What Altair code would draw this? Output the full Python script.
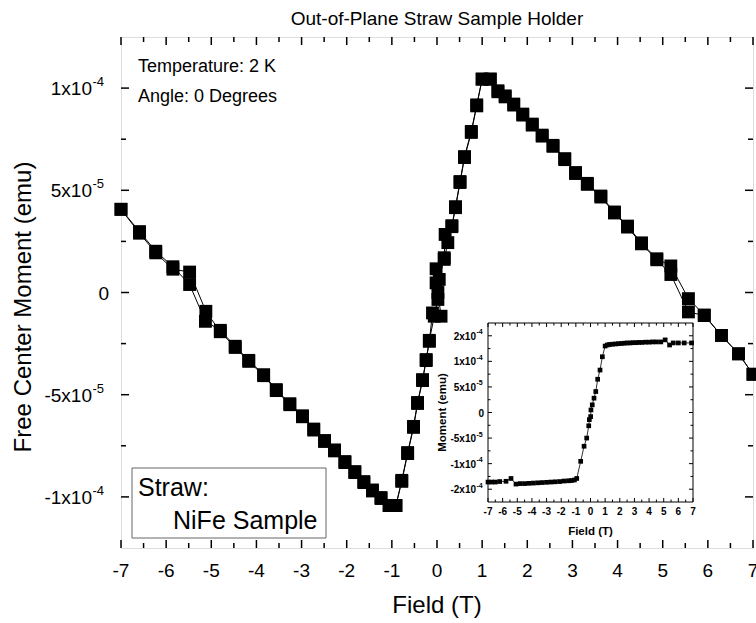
import altair as alt
import pandas as pd

# ---------------- data (main plot: field sweep down, then up) ----------------
field_down = [7.0, 6.68, 6.30, 5.92, 5.57, 5.18, 4.87, 4.53, 4.22, 3.93, 3.63, 3.33, 3.07,
              2.83, 2.57, 2.33, 2.11, 1.90, 1.70, 1.51, 1.35, 1.18, 1.00, 0.88, 0.76, 0.61,
              0.51, 0.41, 0.33, 0.24, 0.16, -0.02, -0.02, 0.02, -0.06, -0.17, -0.24, -0.32,
              -0.43, -0.52, -0.65, -0.78, -0.91, -1.06, -1.24, -1.43, -1.62, -1.82, -2.04,
              -2.27, -2.49, -2.73, -2.98, -3.26, -3.56, -3.84, -4.17, -4.47, -4.80, -5.13,
              -5.48, -5.85, -6.23, -6.59, -7.0]
moment_down_u = [-40, -30, -21, -11, -3, 13, 16.5, 24.3, 32.5, 39.4, 47.2, 53.4, 58.7,
                 65.5, 72, 77, 82.4, 87.3, 92.2, 96.2, 98.7, 104.4, 104.4, 91.3, 78.3, 66,
                 53.8, 41.5, 32.2, 24.4, 16.2, 11.6, 4.7, -3.4, -11.6, -23.4, -32.8, -42.6,
                 -53.8, -65.5, -78.3, -91.9, -104.2, -104.2, -100.3, -96.6, -92.5, -87.6, -82.7,
                 -77, -72.4, -66.8, -60.3, -54.4, -47.5, -40.2, -33.2, -26.3, -18.5, -14.1,
                 3.9, 12.6, 20.2, 29.8, 40.7]
field_up = [-7.0, -6.59, -6.23, -5.85, -5.48, -5.12, -4.80, -4.47, -4.17, -3.84, -3.56, -3.26,
            -2.98, -2.73, -2.49, -2.27, -2.04, -1.82, -1.62, -1.43, -1.24, -1.06, -0.91, -0.78,
            -0.65, -0.52, -0.43, -0.32, -0.24, -0.17, -0.10, 0.09, 0.02, 0.05, 0.16, 0.18,
            0.33, 0.41, 0.51, 0.61, 0.76, 0.88, 1.00, 1.18, 1.35, 1.51, 1.70, 1.90, 2.11,
            2.33, 2.57, 2.83, 3.07, 3.33, 3.63, 3.93, 4.22, 4.53, 4.87, 5.18, 5.57, 5.92,
            6.30, 6.68, 7.0]
moment_up_u = [40.7, 29.0, 19.4, 11.4, 10.0, -9.2, -19.2, -26.9, -33.7, -40.7, -48.0, -54.9,
               -60.8, -67.3, -72.9, -77.5, -83.2, -88.1, -93.0, -97.1, -100.8, -104.2, -104.2,
               -92.4, -78.8, -66.0, -54.3, -43.1, -33.3, -23.9, -10.0, -11.6, 0.0, 6.4, 17.0,
               28.4, 32.7, 42.0, 54.3, 66.5, 78.8, 91.8, 104.4, 104.4, 98.2, 95.7, 91.7, 86.8,
               81.9, 76.5, 71.5, 65.0, 58.2, 52.9, 46.7, 38.9, 32.0, 23.8, 16.0, 8.8, -9.5,
               -11.3, -21.0, -30.0, -40.0]

# ---------------- inset data (moment in units of 1e-4 emu) ----------------
inset_field = [-7.0, -6.75, -6.5, -6.2, -5.77, -5.43, -5.09, -4.8, -4.5, -4.2, -3.9, -3.6,
               -3.3, -3.0, -2.7, -2.4, -2.1, -1.8, -1.5, -1.3, -1.1, -0.94, -0.67, -0.44,
               -0.26, -0.12, -0.08, 0.01, 0.03, 0.12, 0.24, 0.36, 0.49, 0.65, 0.81, 1.0,
               1.15, 1.3, 1.5, 1.7, 1.9, 2.1, 2.3, 2.5, 2.7, 2.9, 3.1, 3.3, 3.5, 3.75, 4.0,
               4.25, 4.5, 4.8, 5.1, 5.4, 5.65, 6.0, 6.4, 6.9]
inset_moment_u = [-1.36, -1.36, -1.36, -1.35, -1.345, -1.29, -1.40, -1.39, -1.39, -1.385,
                  -1.38, -1.375, -1.37, -1.365, -1.36, -1.355, -1.35, -1.34, -1.335, -1.33,
                  -1.32, -1.29, -0.955, -0.66, -0.50, -0.26, -0.14, -0.08, 0.05, 0.15, 0.28,
                  0.41, 0.65, 0.83, 1.09, 1.30, 1.32, 1.33, 1.335, 1.34, 1.345, 1.35, 1.355,
                  1.36, 1.36, 1.365, 1.365, 1.37, 1.37, 1.375, 1.375, 1.38, 1.38, 1.38, 1.42,
                  1.32, 1.36, 1.36, 1.36, 1.36]

# ---------------- ticks and labels ----------------
x_major = [-7, -6, -5, -4, -3, -2, -1, 0, 1, 2, 3, 4, 5, 6, 7]
x_major_labels = ["-7", "-6", "-5", "-4", "-3", "-2", "-1", "0", "1", "2", "3", "4", "5", "6", "7"]
x_minor = [-6.5, -5.5, -4.5, -3.5, -2.5, -1.5, -0.5, 0.5, 1.5, 2.5, 3.5, 4.5, 5.5, 6.5]
y_major = [-1e-4, -5e-5, 0.0, 5e-5, 1e-4]
y_major_mant = ["-1x10", "-5x10", "0", "5x10", "1x10"]
y_major_exp = ["-4", "-5", "", "-5", "-4"]
y_minor = [-7.5e-5, -2.5e-5, 2.5e-5, 7.5e-5]
inset_y_major = [-1.5e-4, -1e-4, -5e-5, 0.0, 5e-5, 1e-4, 1.5e-4]
inset_y_mant = ["-2x10", "-1x10", "-5x10", "0", "5x10", "1x10", "2x10"]
inset_y_exp = ["-4", "-4", "-5", "", "-5", "-4", "-4"]
inset_y_minor = [-1.25e-4, -7.5e-5, -2.5e-5, 2.5e-5, 7.5e-5, 1.25e-4]

title_text = "Out-of-Plane Straw Sample Holder"
x_title = "Field (T)"
y_title = "Free Center Moment (emu)"
inset_y_title = "Moment (emu)"
note_lines = ["Temperature: 2 K", "Angle: 0 Degrees"]
legend_lines = ["Straw:", "NiFe Sample"]

# ---------------- layout constants ----------------
W, H = 632, 511
FONT = "Liberation Sans"
IX0, IX1, IY0, IY1 = 367, 572, 286, 465   # inset plot area (pixels inside main plot)

main_df = pd.DataFrame({
    "field": field_down + field_up,
    "moment": [v * 1e-6 for v in moment_down_u + moment_up_u],
    "order": list(range(len(field_down) + len(field_up))),
})
inset_df = pd.DataFrame({
    "field": inset_field,
    "moment": [v * 1e-4 for v in inset_moment_u],
    "order": list(range(len(inset_field))),
})

xs = alt.Scale(domain=[-7, 7], nice=False, zero=False)
ys = alt.Scale(domain=[-1.25e-4, 1.25e-4], nice=False, zero=False)
ixs = alt.Scale(domain=[-7, 7], range=[IX0, IX1], nice=False, zero=False)
iys = alt.Scale(domain=[-1.75e-4, 1.75e-4], range=[IY1, IY0], nice=False, zero=False)


def xticks(vals, scale, y_bottom, y_top, length, width):
    d = alt.Chart(pd.DataFrame({"v": vals}))
    b = d.mark_rule(color="black", strokeWidth=width).encode(
        x=alt.X("v:Q", scale=scale, axis=None),
        y=alt.value(y_bottom), y2=alt.value(y_bottom - length))
    t = d.mark_rule(color="black", strokeWidth=width).encode(
        x=alt.X("v:Q", scale=scale, axis=None),
        y=alt.value(y_top), y2=alt.value(y_top + length))
    return [b, t]


def yticks(vals, scale, x_left, x_right, length, width):
    d = alt.Chart(pd.DataFrame({"v": vals}))
    l = d.mark_rule(color="black", strokeWidth=width).encode(
        y=alt.Y("v:Q", scale=scale, axis=None),
        x=alt.value(x_left), x2=alt.value(x_left + length))
    r = d.mark_rule(color="black", strokeWidth=width).encode(
        y=alt.Y("v:Q", scale=scale, axis=None),
        x=alt.value(x_right), x2=alt.value(x_right - length))
    return [l, r]


def xlabels(vals, labels, scale, y_px, size, weight):
    return alt.Chart(pd.DataFrame({"v": vals, "t": labels})).mark_text(
        baseline="top", align="center", font=FONT, fontSize=size, fontWeight=weight,
        color="black").encode(
        x=alt.X("v:Q", scale=scale, axis=None), y=alt.value(y_px), text="t:N")


def ylabels(vals, mant, exps, scale, x_right, exp_w, size, exp_size, exp_dy, weight):
    d = alt.Chart(pd.DataFrame({"v": vals, "m": mant, "e": exps}))
    plain = d.transform_filter(alt.datum.e == "").mark_text(
        baseline="middle", align="right", font=FONT, fontSize=size, fontWeight=weight,
        color="black", dy=1).encode(
        y=alt.Y("v:Q", scale=scale, axis=None), x=alt.value(x_right), text="m:N")
    mant_l = d.transform_filter(alt.datum.e != "").mark_text(
        baseline="middle", align="right", font=FONT, fontSize=size, fontWeight=weight,
        color="black", dy=1).encode(
        y=alt.Y("v:Q", scale=scale, axis=None), x=alt.value(x_right - exp_w), text="m:N")
    exp_l = d.transform_filter(alt.datum.e != "").mark_text(
        baseline="middle", align="left", font=FONT, fontSize=exp_size, fontWeight=weight,
        color="black", dy=exp_dy, dx=0.5).encode(
        y=alt.Y("v:Q", scale=scale, axis=None), x=alt.value(x_right - exp_w), text="e:N")
    return [plain, mant_l, exp_l]


one = pd.DataFrame({"k": [0]})


def text_at(txt, px, py, size, weight="normal", align="left", baseline="alphabetic", angle=0):
    return alt.Chart(one).mark_text(text=txt, align=align, baseline=baseline, angle=angle,
                                    font=FONT, fontSize=size, fontWeight=weight,
                                    color="black").encode(
        x=alt.value(px), y=alt.value(py))


# ---------------- main plot ----------------
base = alt.Chart(main_df)
main_line = base.mark_line(color="black", strokeWidth=1).encode(
    x=alt.X("field:Q", scale=xs, axis=None),
    y=alt.Y("moment:Q", scale=ys, axis=None),
    order="order:Q",
)
main_pts = base.mark_square(color="black", filled=True, size=165, opacity=1).encode(
    x=alt.X("field:Q", scale=xs, axis=None),
    y=alt.Y("moment:Q", scale=ys, axis=None),
)
main_ticks = (xticks(x_major, xs, H, 0, 8, 1.5) + xticks(x_minor, xs, H, 0, 5, 1.5)
              + yticks(y_major, ys, 0, W, 8, 1.5) + yticks(y_minor, ys, 0, W, 5, 1.5))
main_labels = [xlabels(x_major, x_major_labels, xs, H + 14, 19, "normal")] + \
    ylabels(y_major, y_major_mant, y_major_exp, ys, -12, 17, 19, 13, -6, "normal")
main_group = alt.layer(main_line, main_pts, *main_ticks, *main_labels)

# ---------------- inset ----------------
inset_frame = alt.Chart(pd.DataFrame({"x1": [-7], "x2": [7], "y1": [-1.75e-4], "y2": [1.75e-4]})
                        ).mark_rect(fill="white", stroke="black", strokeWidth=1).encode(
    x=alt.X("x1:Q", scale=ixs, axis=None), x2="x2:Q",
    y=alt.Y("y1:Q", scale=iys, axis=None), y2="y2:Q")
ibase = alt.Chart(inset_df)
inset_line = ibase.mark_line(color="black", strokeWidth=0.8).encode(
    x=alt.X("field:Q", scale=ixs, axis=None),
    y=alt.Y("moment:Q", scale=iys, axis=None),
    order="order:Q",
)
inset_pts = ibase.mark_square(color="black", filled=True, size=22, opacity=1).encode(
    x=alt.X("field:Q", scale=ixs, axis=None),
    y=alt.Y("moment:Q", scale=iys, axis=None),
)
inset_ticks = (xticks(x_major, ixs, IY1, IY0, 4, 1) + xticks(x_minor, ixs, IY1, IY0, 2.5, 1)
               + yticks(inset_y_major, iys, IX0, IX1, 4, 1)
               + yticks(inset_y_minor, iys, IX0, IX1, 2.5, 1))
inset_labels = [xlabels(x_major, x_major_labels, ixs, IY1 + 5, 10, "bold")] + \
    ylabels(inset_y_major, inset_y_mant, inset_y_exp, iys, IX0 - 4, 8, 10, 7, -3.5, "bold")
inset_group = alt.layer(inset_frame, inset_line, inset_pts, *inset_ticks, *inset_labels)

# ---------------- annotations ----------------
legend_box = alt.Chart(one).mark_rect(fill="white", stroke="#666666", strokeWidth=1).encode(
    x=alt.value(11), x2=alt.value(205), y=alt.value(431), y2=alt.value(501))

annotations = [
    text_at(note_lines[0], 17, 35, 18),
    text_at(note_lines[1], 17, 65, 18),
    legend_box,
    text_at(legend_lines[0], 17, 459, 25),
    text_at(legend_lines[1], 52, 492, 25),
    text_at(x_title, W / 2, 576, 24, align="center"),
    text_at(y_title, -97, 270, 24, align="center", baseline="middle", angle=270),
    text_at(x_title, (IX0 + IX1) / 2, 498, 11.5, weight="bold", align="center"),
    text_at(inset_y_title, 322, (IY0 + IY1) / 2, 11.5, weight="bold", align="center",
            baseline="middle", angle=270),
]

chart = alt.layer(main_group, inset_group, *annotations).resolve_scale(
    x="independent", y="independent"
).properties(
    width=W, height=H,
    autosize=alt.AutoSizeParams(type="none"),
    padding={"left": 121, "top": 37, "right": 3, "bottom": 75},
    title=alt.TitleParams(title_text, font=FONT, fontSize=19, fontWeight="normal",
                          color="black", offset=7, anchor="middle"),
).configure_view(stroke="black", strokeWidth=1.5).configure(background="white")

chart.save("out.html", embed_options={"renderer": "svg", "actions": False})
